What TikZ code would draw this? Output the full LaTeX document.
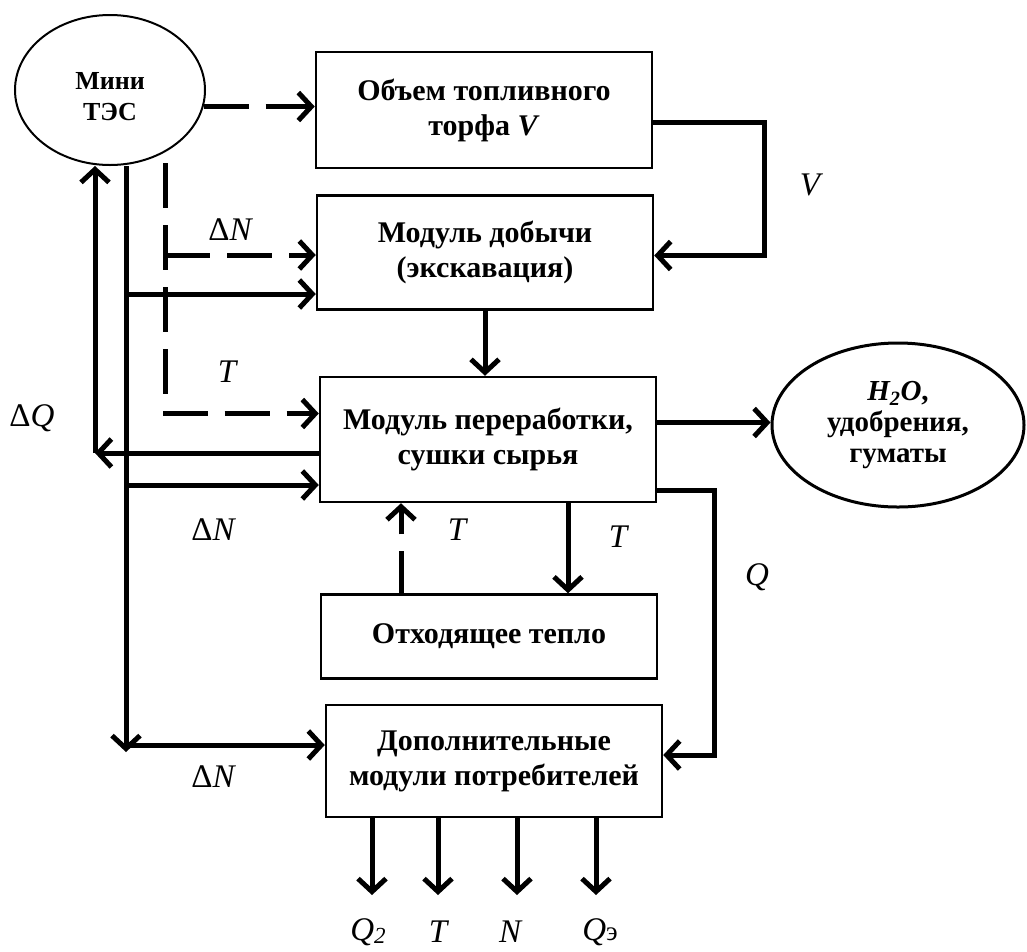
\documentclass[tikz,border=0pt]{standalone}
\usepackage{fontspec}
\setmainfont{Liberation Serif}
\usetikzlibrary{positioning,arrows.meta,shapes.geometric}

\begin{document}
\begin{tikzpicture}[x=1pt,y=-1pt,
  blk/.style={draw, line width=2.5pt, minimum width=336pt, minimum height=114pt,
    align=center, font=\fontsize{30}{35}\selectfont\bfseries},
  src/.style={ellipse, draw, line width=2pt, inner sep=0pt, align=center,
    font=\fontsize{26}{31}\selectfont\bfseries},
  lbl/.style={inner sep=0pt, font=\fontsize{33}{36}\selectfont\itshape},
  flow/.style={line width=5pt, -{Straight Barb[length=13pt,width=28pt]}},
  dsh/.style={dash pattern=on 45pt off 17pt}]

  \useasboundingbox (0,0) rectangle (1027,951);

  % source and sinks
  \node[src, minimum width=190pt, minimum height=150pt] (tes) at (110,90)
    {\raisebox{-7pt}[\height][\depth]{Мини}\\\raisebox{-7pt}[\height][\depth]{ТЭС}}; %
  \node[src, line width=3pt, minimum width=252pt, minimum height=164pt,
    font=\fontsize{29}{31}\selectfont\bfseries] (prod) at (898,425)
    {\textit{H\textsubscript{2}O},\\удобрения,\\гуматы}; %

  % modules
  \node[blk, minimum height=116pt] (vol) at (484,110) {Объем топливного\\торфа \textit{V}}; %
  \node[blk, below=25pt of vol, xshift=1pt] (mine) {Модуль добычи\\(экскавация)}; %
  \node[blk, minimum height=125pt, below=65pt of mine, xshift=3pt] (proc) {Модуль переработки,\\сушки сырья}; %
  \node[blk, minimum height=84pt, below=90pt of proc, xshift=1pt] (heat) {Отходящее тепло}; %
  \node[blk, minimum height=112pt, below=24pt of heat, xshift=5pt] (cons) {Дополнительные\\модули потребителей}; %

  % junctions
  \coordinate (dtop) at (165,163);
  \coordinate (dn1) at (165,255);
  \coordinate (s1) at (126,294);
  \coordinate (s2) at (126,485);
  \coordinate (s3) at (126,745);
  \coordinate (s4) at (126,752);
  \coordinate (q1) at (95,453);
  \coordinate (p1) at ([yshift=17pt]proc.east);
  \coordinate (p2) at ([yshift=-51pt]proc.east);
  \coordinate (h1) at (568,0);
  \coordinate (h2) at (401,0);

  % dashed flows
  \draw[flow, dsh] (tes.-10) -- (tes.-10 -| vol.west);
  \draw[flow, dsh] (dtop) |- ([yshift=26pt]proc.west);
  \draw[flow, dsh] (dn1) -- (dn1 -| mine.west);
  \draw[flow, dash pattern=on 42pt off 17pt] (h2 |- heat.north) -- (h2 |- proc.south);

  % solid flows
  \draw[flow] ([yshift=-12pt]vol.east) -- ++(111,0) |- ([yshift=-3pt]mine.east);
  \draw[flow] (s1 |- tes.south) -- (s4);
  \draw[flow] (s1) -- (s1 -| mine.west);
  \draw[flow] (s2) -- (s2 -| proc.west);
  \draw[flow] (s3) -- (s3 -| cons.west);
  \draw[flow] (q1 -| proc.west) -- (q1);
  \draw[flow] (q1) -- (q1 |- tes.south);
  \draw[flow] (mine.south) -- (mine.south |- proc.north);
  \draw[flow] (p1) -- (p1 -| prod.west);
  \draw[flow] (p2) -- ++(57,0) |- ([yshift=6pt]cons.east);
  \draw[flow] (h1 |- proc.south) -- (h1 |- heat.north);
  \foreach \x/\n in {372/o1,438/o2,517/o3,596/o4}{
    \coordinate (\n) at (\x,895);
    \draw[flow] (\n |- cons.south) -- (\n);
  }

  % labels
  \node[lbl] (vl) at (810,185) {V};
  \node[lbl] (dn1l) at (230,230) {{\upshape Δ}N};
  \node[lbl] (tl1) at (227,372) {T};
  \node[lbl] (dql) at (32,418) {{\upshape Δ}Q};
  \node[lbl] (dn2l) at (213,530) {{\upshape Δ}N};
  \node[lbl] (tl2) at (457,530) {T};
  \node[lbl] (tl3) at (618,537) {T};
  \node[lbl] (ql) at (757,577) {Q};
  \node[lbl] (dn3l) at (213,777) {{\upshape Δ}N};
  \node[lbl] (lq2) at (368,932) {Q\raisebox{-3pt}{\fontsize{23}{23}\selectfont 2}};
  \node[lbl] (lt) at (438,932) {T};
  \node[lbl] (ln) at (510,932) {N};
  \node[lbl] (lqe) at (600,932) {Q{\upshape\fontsize{27}{27}\selectfont э}};

\end{tikzpicture}
\end{document}
